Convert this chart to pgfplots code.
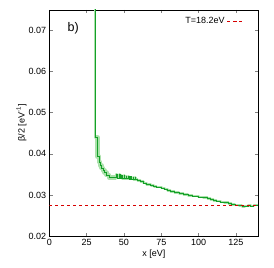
\documentclass[border=0pt]{standalone}
\usepackage{pgfplots}
\pgfplotsset{compat=1.18}
\usepackage{fontspec}
\setmainfont{Liberation Sans}
\definecolor{lgreen}{RGB}{20,160,40}
\definecolor{bandgreen}{RGB}{170,225,170}
\definecolor{dred}{RGB}{215,0,0}
\pgfplotstableread{
x y
30.5 0.0900
30.6 0.0440
32.2 0.0393
33.2 0.0380
34.0 0.0372
35.0 0.0365
36.0 0.0360
37.0 0.0354
38.3 0.0348
40.0 0.0342
45.0 0.0351
45.3 0.0341
47.0 0.0349
47.3 0.0341
48.5 0.0347
48.8 0.0340
50.0 0.0347
50.3 0.0340
51.5 0.0346
51.8 0.0340
53.0 0.0345
53.3 0.0339
54.5 0.0344
54.8 0.0339
56.0 0.0343
56.3 0.0338
57.5 0.0342
57.8 0.0337
59.0 0.0335
61.0 0.0332
63.0 0.0329
65.0 0.0326
68.0 0.0323
70.0 0.0321
72.0 0.0319
75.0 0.0317
77.0 0.0314
79.0 0.0311
81.0 0.0308
84.0 0.0306
87.0 0.0303
90.0 0.0301
93.0 0.0299
96.0 0.0297
100.0 0.0295
103.0 0.0293
106.0 0.0291
108.0 0.0289
110.0 0.0287
112.0 0.0285
114.5 0.0283
117.0 0.0281
120.0 0.0279
122.0 0.0277
124.5 0.0275
127.0 0.0274
129.0 0.0272
131.0 0.0273
133.0 0.0274
135.0 0.0273
137.0 0.0275
140.0 0.0275
}\main
\pgfplotstableread{
x y
30.6 0.0440
32.2 0.0393
33.2 0.0380
34.0 0.0372
35.0 0.0365
36.0 0.0360
37.0 0.0354
38.3 0.0348
40.0 0.0342
45.0 0.0341
}\wide
\pgfplotstableread{
x y
0 0.02747
140 0.02747
}\tline
\begin{document}
\fontsize{9}{10}\selectfont
\begin{tikzpicture}
\begin{axis}[
  scale only axis, width=209pt, height=226pt,
  xmin=0, xmax=140, ymin=0.02, ymax=0.075,
  xtick={0,25,50,75,100,125}, ytick={0.02,0.03,0.04,0.05,0.06,0.07},
  scaled y ticks=false,
  yticklabel style={/pgf/number format/.cd, fixed, fixed zerofill, precision=2},
  /pgf/number format/assume math mode=true,
  tick align=inside, major tick length=3.5pt,
  major tick style={line width=0.6pt},
  axis line style={line width=0.8pt},
  ticklabel style={font=\fontsize{9}{10}\selectfont},
  xlabel={x [eV]}, ylabel={β/2 [eV\textsuperscript{-1}]},
  label style={font=\fontsize{9}{10}\selectfont},
  xlabel style={yshift=2pt},
  ylabel style={yshift=-4pt},
  legend plot pos=right,
  legend style={at={(rel axis cs:0.95,0.985)}, anchor=north east, draw=none, fill=none, font=\fontsize{9}{10}\selectfont},
  legend cell align=right,
]
\addplot[const plot, color=bandgreen, line width=2.6pt, line join=round, forget plot] table {\main};
\addplot[const plot, color=bandgreen, line width=4.5pt, line join=round, forget plot] table {\wide};
\addplot[const plot, color=lgreen, line width=0.7pt, forget plot] table {\main};
\addplot[color=dred, draw=dred, line width=1pt, dash pattern=on 3pt off 3pt, mark=none] table {\tline};
\addlegendentry{T=18.2eV}
\node[font=\fontsize{12.5}{13}\selectfont] at (axis cs:16,0.0706) {b)};
\end{axis}
\pgfresetboundingbox
\path (current axis.south west) ++(-49.3pt,-31pt) rectangle ([shift={(15.7pt,10pt)}]current axis.north east);
\end{tikzpicture}
\end{document}
